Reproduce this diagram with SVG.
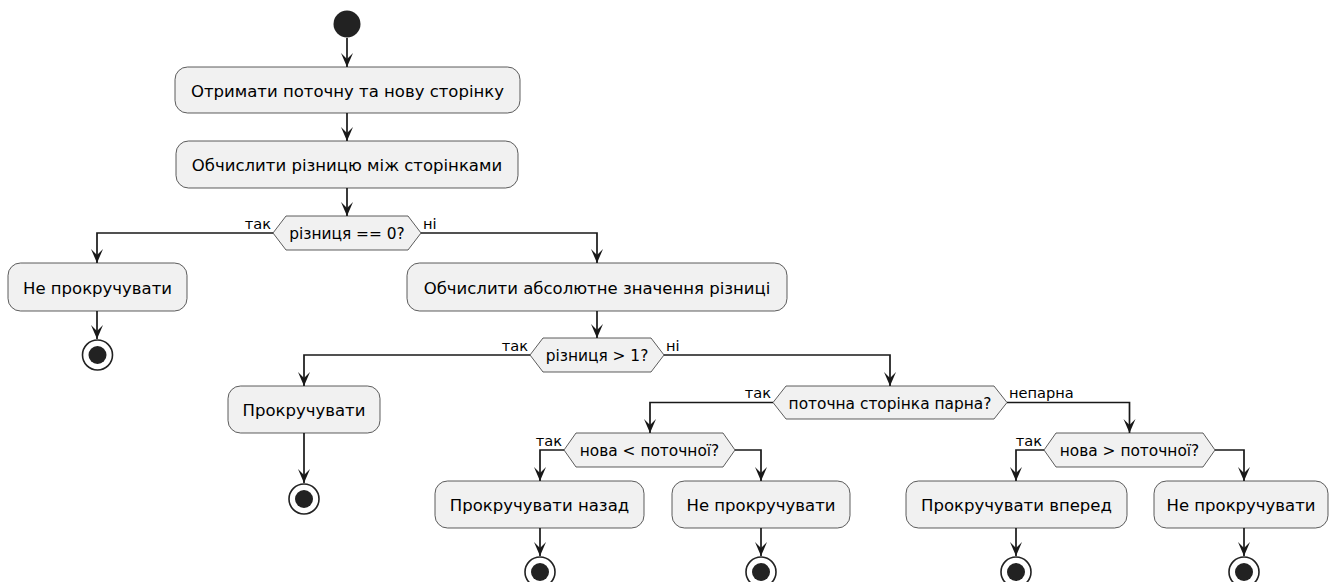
<svg xmlns="http://www.w3.org/2000/svg" width="1329" height="582" viewBox="0 0 1329 582">
<style>
.box{fill:#F1F1F1;stroke:#181818;stroke-width:0.7}
.dia{fill:#F1F1F1;stroke:#181818;stroke-width:0.7}
.t{font-family:"DejaVu Sans",sans-serif;font-size:16.5px;fill:#000;text-anchor:middle}
.dt{font-family:"DejaVu Sans",sans-serif;font-size:15.4px;fill:#000;text-anchor:middle}
.lbl{font-family:"DejaVu Sans",sans-serif;font-size:14.6px;fill:#000}
.c{fill:none;stroke:#181818;stroke-width:1.7}
.start{fill:#222}
.endo{fill:#fff;stroke:#222;stroke-width:1.6}
.endi{fill:#222}
</style>
<defs>
<marker id="ah" markerUnits="userSpaceOnUse" markerWidth="20" markerHeight="20" refX="0" refY="0" orient="auto" overflow="visible">
<path d="M0,0 L-14,-6 L-8,0 L-14,6 Z" fill="#181818"/>
</marker>
</defs>
<g id="connectors">
<path class="c" d="M347,38 V67" marker-end="url(#ah)"/>
<path class="c" d="M347,113 V141" marker-end="url(#ah)"/>
<path class="c" d="M347,188 V216" marker-end="url(#ah)"/>
<path class="c" d="M273,233 H97 V263" marker-end="url(#ah)"/>
<path class="c" d="M97,311 V339" marker-end="url(#ah)"/>
<path class="c" d="M421,233 H597 V263" marker-end="url(#ah)"/>
<path class="c" d="M597,311 V338" marker-end="url(#ah)"/>
<path class="c" d="M530,355 H304 V386" marker-end="url(#ah)"/>
<path class="c" d="M304,433 V483" marker-end="url(#ah)"/>
<path class="c" d="M664,355 H890 V386" marker-end="url(#ah)"/>
<path class="c" d="M773,402.5 H650 V433" marker-end="url(#ah)"/>
<path class="c" d="M564,450 H540 V481" marker-end="url(#ah)"/>
<path class="c" d="M540,528 V556" marker-end="url(#ah)"/>
<path class="c" d="M735,450 H761 V481" marker-end="url(#ah)"/>
<path class="c" d="M761,528 V556" marker-end="url(#ah)"/>
<path class="c" d="M1007,402.5 H1129.5 V433" marker-end="url(#ah)"/>
<path class="c" d="M1044,450 H1016 V481" marker-end="url(#ah)"/>
<path class="c" d="M1016,528 V556" marker-end="url(#ah)"/>
<path class="c" d="M1215,450 H1244 V481" marker-end="url(#ah)"/>
<path class="c" d="M1244,528 V556" marker-end="url(#ah)"/>
<text class="lbl" x="271" y="229" text-anchor="end">так</text>
<text class="lbl" x="423" y="229">ні</text>
<text class="lbl" x="528" y="351" text-anchor="end">так</text>
<text class="lbl" x="666" y="351">ні</text>
<text class="lbl" x="771" y="398" text-anchor="end">так</text>
<text class="lbl" x="1009" y="398">непарна</text>
<text class="lbl" x="562" y="446" text-anchor="end">так</text>
<text class="lbl" x="1042" y="446" text-anchor="end">так</text>
</g>
<g id="start"><circle class="start" cx="347" cy="24" r="13.5"/></g>
<g id="get-pages"><rect class="box" x="175" y="67" width="345" height="46" rx="12.5"/><text class="t" x="347.5" y="96.5">Отримати поточну та нову сторінку</text></g>
<g id="calc-diff"><rect class="box" x="176" y="141" width="342" height="47" rx="12.5"/><text class="t" x="347" y="171">Обчислити різницю між сторінками</text></g>
<g id="d-zero"><polygon class="dia" points="273,233 286,216 408,216 421,233 408,250 286,250"/><text class="dt" x="347" y="239">різниця == 0?</text></g>
<g id="no-scroll-1"><rect class="box" x="8" y="263" width="179" height="48" rx="12.5"/><text class="t" x="97.5" y="293.5">Не прокручувати</text></g>
<g id="end-1"><circle class="endo" cx="97.5" cy="355" r="15"/><circle class="endi" cx="97.5" cy="355" r="9"/></g>
<g id="calc-abs"><rect class="box" x="407" y="263" width="380" height="48" rx="12.5"/><text class="t" x="597" y="293.5">Обчислити абсолютне значення різниці</text></g>
<g id="d-gt1"><polygon class="dia" points="530,355 543,338 651,338 664,355 651,372 543,372"/><text class="dt" x="597" y="361">різниця &gt; 1?</text></g>
<g id="scroll"><rect class="box" x="228" y="386" width="152" height="47" rx="12.5"/><text class="t" x="304" y="416">Прокручувати</text></g>
<g id="end-2"><circle class="endo" cx="304" cy="499" r="15"/><circle class="endi" cx="304" cy="499" r="9"/></g>
<g id="d-even"><polygon class="dia" points="773,402.5 786,386 994,386 1007,402.5 994,419 786,419"/><text class="dt" x="890" y="408.5">поточна сторінка парна?</text></g>
<g id="d-less"><polygon class="dia" points="564,450 576,433 723,433 735,450 723,467 576,467"/><text class="dt" x="649.5" y="456">нова &lt; поточної?</text></g>
<g id="scroll-back"><rect class="box" x="435" y="481" width="209" height="47" rx="12.5"/><text class="t" x="539.5" y="511">Прокручувати назад</text></g>
<g id="end-3"><circle class="endo" cx="540" cy="572" r="15"/><circle class="endi" cx="540" cy="572" r="9"/></g>
<g id="no-scroll-2"><rect class="box" x="672" y="481" width="178" height="47" rx="12.5"/><text class="t" x="761" y="511">Не прокручувати</text></g>
<g id="end-4"><circle class="endo" cx="761" cy="572" r="15"/><circle class="endi" cx="761" cy="572" r="9"/></g>
<g id="d-greater"><polygon class="dia" points="1044,450 1056,433 1203,433 1215,450 1203,467 1056,467"/><text class="dt" x="1129.5" y="456">нова &gt; поточної?</text></g>
<g id="scroll-forward"><rect class="box" x="906" y="481" width="221" height="47" rx="12.5"/><text class="t" x="1016.5" y="511">Прокручувати вперед</text></g>
<g id="end-5"><circle class="endo" cx="1016" cy="572" r="15"/><circle class="endi" cx="1016" cy="572" r="9"/></g>
<g id="no-scroll-3"><rect class="box" x="1154" y="481" width="174" height="47" rx="12.5"/><text class="t" x="1241" y="511">Не прокручувати</text></g>
<g id="end-6"><circle class="endo" cx="1244" cy="572" r="15"/><circle class="endi" cx="1244" cy="572" r="9"/></g>
</svg>
